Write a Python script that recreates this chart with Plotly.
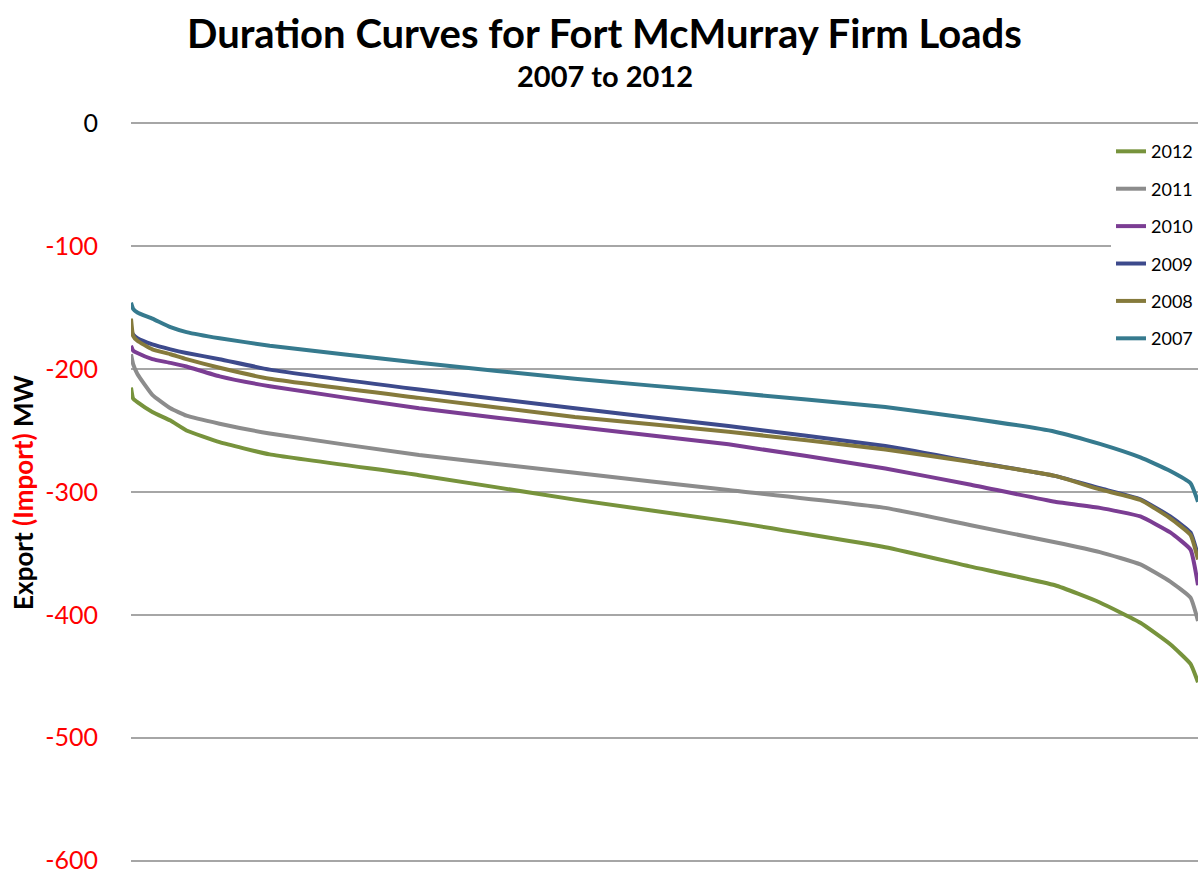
import plotly.graph_objects as go

# percent of hours exceeded (duration axis, hidden)
pct = [0, 0.2, 0.6, 2, 3.7, 5.2, 8.3, 13, 27, 41.6, 56, 70.7, 78.6, 86.6, 90.8, 94.6, 97.4, 99.3, 100]

mw_2012 = [-215, -224, -227, -235, -242, -250, -259.5, -269.5, -286.4, -306.3, -324, -345, -360.6, -376, -390, -406.5, -424, -440, -455]
mw_2011 = [-188, -196, -204, -221, -232, -238, -244.5, -252.5, -270, -284.5, -298.5, -313, -327, -341, -349, -359, -373, -386, -405]
mw_2010 = [-181, -185, -187, -192, -195, -198, -206, -214, -232, -247, -261.3, -281, -294, -308, -313, -320, -333, -347, -376]
mw_2009 = [-169, -172, -175, -180, -184, -187, -192, -200.5, -216.7, -232, -246.4, -262.7, -275, -287, -297, -306, -320, -333, -352]
mw_2008 = [-159, -173, -177, -184, -188, -192, -199, -208, -223.5, -239, -251, -265.5, -275.5, -287, -298, -306.6, -321.5, -335, -355]
mw_2007 = [-146, -151, -154, -159, -166, -170, -175, -181, -195, -208, -219, -231, -240, -251, -261, -272, -283, -293, -308]

years = ["2012", "2011", "2010", "2009", "2008", "2007"]
series = [mw_2012, mw_2011, mw_2010, mw_2009, mw_2008, mw_2007]
colors = ["#77933C", "#8C8C8C", "#7B3D93", "#3D4A8C", "#857A3C", "#367A8E"]

tick_vals = [0, -100, -200, -300, -400, -500, -600]
tick_text = ["0"] + ['<span style="color:red">%d</span>' % v for v in tick_vals[1:]]

fig = go.Figure()
for yr, vals, c in zip(years, series, colors):
    fig.add_trace(go.Scatter(x=pct, y=vals, name=yr, mode="lines", legendgroup=yr,
                             line=dict(color=c, width=4, shape="spline", smoothing=0.4)))

fig.update_layout(
    width=1199, height=875,
    margin=dict(l=131, r=1, t=122, b=9),
    paper_bgcolor="white", plot_bgcolor="white",
    font=dict(family="Lato", color="black"),
    legend=dict(x=1, xanchor="right", y=0.985, yanchor="top", bgcolor="white",
                font=dict(size=18), tracegroupgap=11, traceorder="grouped"),
    showlegend=True,
)
fig.add_annotation(text="<b>Duration Curves for Fort McMurray Firm Loads</b>",
                   xref="paper", yref="paper", x=0.444, y=1, yshift=89, xanchor="center",
                   yanchor="middle", showarrow=False, font=dict(size=40))
fig.add_annotation(text="<b>2007 to 2012</b>",
                   xref="paper", yref="paper", x=0.444, y=1, yshift=47, xanchor="center",
                   yanchor="middle", showarrow=False, font=dict(size=29))
fig.update_xaxes(range=[0, 100], showgrid=False, zeroline=False, showticklabels=False, showline=False)
fig.update_yaxes(range=[-602, 1], tickvals=tick_vals, ticktext=tick_text,
                 showgrid=True, gridcolor="#A6A6A6", gridwidth=1.5, zeroline=False,
                 tickfont=dict(size=25), ticklabelstandoff=32, ticklabeloverflow="allow",
                 title=dict(text="<b>Export <span style='color:red'>(Import)</span> MW</b>",
                            font=dict(size=26), standoff=4))

# drop the default page margin so the figure sits at the window's corner
fig.write_html("out.html", config={"displayModeBar": False},
               post_script="document.body.style.margin='0';")
